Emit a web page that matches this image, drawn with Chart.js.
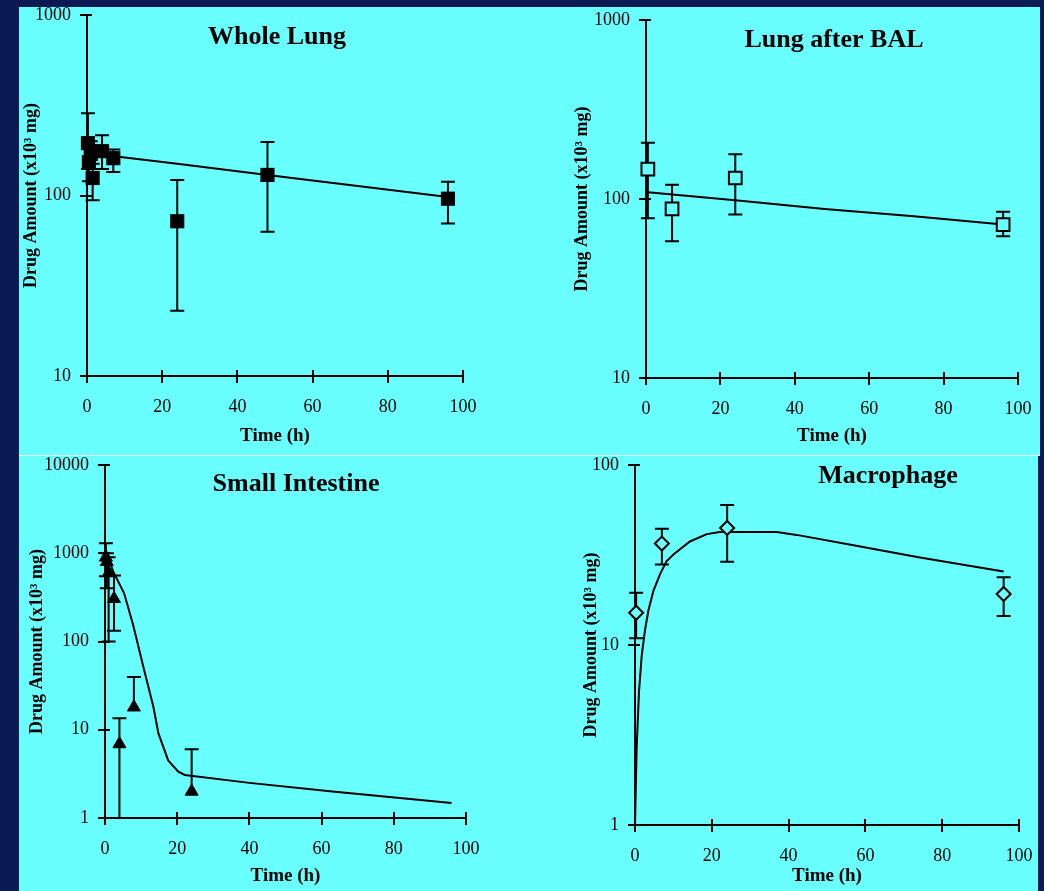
<!DOCTYPE html>
<html>
<head>
<meta charset="utf-8">
<script src="https://cdn.jsdelivr.net/npm/chart.js@4.4.0/dist/chart.umd.min.js"></script>
<style>
  html, body { margin: 0; padding: 0; background: #0c1a54; }
  #page { position: relative; width: 1044px; height: 891px; overflow: hidden; background: #0c1a54; }
  .panel { position: absolute; background: #6affff; }
  canvas { position: absolute; }
</style>
</head>
<body>
<div id="page">
  <div class="panel" style="left:19px;top:7px;width:1021px;height:448px"></div>
  <div style="position:absolute;left:19px;top:455px;width:1021px;height:1px;background:#e4ffff"></div>
  <div class="panel" style="left:19px;top:456px;width:1019px;height:435px"></div>
  <canvas id="wholeLung" width="520" height="455" style="left:0;top:0"></canvas>
  <canvas id="lungBal" width="524" height="455" style="left:520px;top:0"></canvas>
  <canvas id="smallIntestine" width="520" height="435" style="left:0;top:456px"></canvas>
  <canvas id="macrophage" width="518" height="435" style="left:520px;top:456px"></canvas>
</div>
<script>
// ---- shared axis ticks ----
const timeTicks = [0, 20, 40, 60, 80, 100];
const lungTicks = [10, 100, 1000];
const intestineTicks = [1, 10, 100, 1000, 10000];
const macrophageTicks = [1, 10, 100];

// ---- Whole Lung (mean, upper / lower error limits, fitted curve) ----
const wholeLungTime  = [0.25, 0.5, 1, 1.5, 4, 7, 24, 48, 96];
const wholeLungMean  = [195, 153, 170, 125, 176, 161, 72, 130, 96];
const wholeLungUpper = [286, 190, 200, 150, 216, 180, 122, 198, 119];
const wholeLungLower = [140, 120, 140, 94, 140, 135, 23, 63, 70];
const wholeLungFitTime   = [0, 24, 48, 72, 96];
const wholeLungFitAmount = [172, 150, 130, 113, 98];

// ---- Lung after BAL ----
const lungBalTime  = [0.5, 7, 24, 96];
const lungBalMean  = [147, 88, 131, 72];
const lungBalUpper = [206, 120, 178, 85];
const lungBalLower = [78, 58, 82, 62];
const lungBalFitTime   = [0.5, 24, 48, 72, 96];
const lungBalFitAmount = [109, 98.5, 88, 80, 72];

// ---- Small Intestine ----
const intestineTime  = [0.25, 0.5, 1, 2.5, 4, 8, 24];
const intestineMean  = [900, 800, 600, 305, 6.9, 18, 2];
const intestineUpper = [1300, 1000, 900, 560, 13.5, 39.5, 6];
const intestineLower = [550, 400, 100, 132, 1, null, null];
const intestineFitTime   = [0, 1.4, 2.3, 5.3, 7.8, 10.6, 13.4, 14.8, 17.5, 20.3, 22.1, 40, 63, 96];
const intestineFitAmount = [900, 776, 618, 352, 154, 52, 18.2, 9.1, 4.5, 3.35, 3.07, 2.5, 2.0, 1.48];

// ---- Macrophage ----
const macrophageTime  = [0.3, 7, 24, 96];
const macrophageMean  = [15.1, 36.6, 44.7, 19.2];
const macrophageUpper = [19.5, 44.2, 60, 23.8];
const macrophageLower = [10.9, 28, 29, 14.5];
const macrophageFitTime   = [0, 0.43, 1.04, 1.74, 2.6, 3.5, 4.8, 6.5, 8.2, 10, 14.3, 18.7, 22.1, 36.9, 42.1, 56.9, 74.2, 96];
const macrophageFitAmount = [1, 2.68, 5.5, 8.7, 12.1, 15.6, 20, 24.7, 29.2, 31.8, 37.6, 41.3, 42.4, 42.4, 40.9, 35.8, 30.6, 25.6];

const FONT = "'Liberation Serif', 'Times New Roman', serif";
const CYAN = '#6affff';
const INK = '#000000';

const pairs = (xs, ys) => xs.map((x, i) => ({ x, y: ys[i] }));

// vertical error bars with caps, drawn beneath the markers
const errorBars = {
  id: 'errorBars',
  beforeDatasetsDraw(chart) {
    const { ctx, scales: { x, y } } = chart;
    const cap = 7;
    ctx.save();
    ctx.strokeStyle = INK;
    ctx.lineWidth = 2;
    chart.data.datasets.forEach(ds => {
      if (!ds.errorUpper) return;
      ds.data.forEach((p, i) => {
        const px = x.getPixelForValue(p.x);
        const py = y.getPixelForValue(p.y);
        [ds.errorUpper[i], ds.errorLower[i]].forEach(v => {
          if (v == null) return;
          const e = y.getPixelForValue(v);
          ctx.beginPath();
          ctx.moveTo(px, py);
          ctx.lineTo(px, e);
          ctx.moveTo(px - cap, e);
          ctx.lineTo(px + cap, e);
          ctx.stroke();
        });
      });
    });
    ctx.restore();
  }
};

// tick marks that cross the axis line (the inner half)
const innerTicks = {
  id: 'innerTicks',
  afterDraw(chart) {
    const { ctx, chartArea: a, scales: { x, y } } = chart;
    ctx.save();
    ctx.strokeStyle = INK;
    ctx.lineWidth = 2;
    x.ticks.forEach(t => {
      const p = Math.round(x.getPixelForValue(t.value));
      ctx.beginPath(); ctx.moveTo(p, a.bottom); ctx.lineTo(p, a.bottom - 6); ctx.stroke();
    });
    y.ticks.forEach(t => {
      const p = Math.round(y.getPixelForValue(t.value));
      ctx.beginPath(); ctx.moveTo(a.left, p); ctx.lineTo(a.left + 5, p); ctx.stroke();
    });
    ctx.restore();
  }
};

// panel heading placed inside the plot
const panelTitle = {
  id: 'panelTitle',
  afterDraw(chart, args, opts) {
    const { ctx } = chart;
    ctx.save();
    ctx.font = `bold 26px ${FONT}`;
    ctx.fillStyle = INK;
    ctx.textAlign = 'center';
    ctx.textBaseline = 'alphabetic';
    ctx.fillText(opts.text, opts.x, opts.y);
    ctx.restore();
  }
};

function makePanel(id, p) {
  const canvas = document.getElementById(id);
  const cw = canvas.width, ch = canvas.height;
  const a = p.area;
  return new Chart(canvas, {
    type: 'scatter',
    data: {
      datasets: [
        {
          data: pairs(p.fitTime, p.fitAmount),
          showLine: true,
          borderColor: INK,
          borderWidth: 2,
          pointRadius: 0,
          tension: 0,
          order: 2
        },
        {
          data: pairs(p.time, p.mean),
          errorUpper: p.upper,
          errorLower: p.lower,
          showLine: false,
          clip: false,
          pointStyle: p.marker.style,
          pointRadius: p.marker.radius,
          pointBackgroundColor: p.marker.fill,
          pointBorderColor: INK,
          pointBorderWidth: p.marker.border,
          order: 1
        }
      ]
    },
    options: {
      responsive: false,
      animation: false,
      devicePixelRatio: 1,
      layout: { padding: { left: 0, top: a.top, right: cw - a.right, bottom: 0 } },
      plugins: {
        legend: { display: false },
        tooltip: { enabled: false },
        panelTitle: p.heading
      },
      scales: {
        x: {
          type: 'linear',
          min: 0,
          max: 100,
          afterBuildTicks: s => { s.ticks = timeTicks.map(v => ({ value: v })); },
          afterFit: s => { s.height = ch - a.bottom; s.paddingLeft = 0; s.paddingRight = 0; },
          ticks: {
            font: { family: FONT, size: 18 },
            color: INK,
            padding: 13,
            maxRotation: 0,
            autoSkip: false,
            callback: v => String(v)
          },
          grid: { drawOnChartArea: false, drawTicks: true, tickLength: 7, tickWidth: 2, color: INK, lineWidth: 2 },
          border: { color: INK, width: 2 },
          title: {
            display: true,
            text: 'Time (h)',
            color: INK,
            font: { family: FONT, size: 19, weight: 'bold' },
            padding: { top: 0, bottom: p.xTitlePad }
          }
        },
        y: {
          type: 'logarithmic',
          min: p.yTicks[0],
          max: p.yTicks[p.yTicks.length - 1],
          afterBuildTicks: s => { s.ticks = p.yTicks.map(v => ({ value: v })); },
          afterFit: s => { s.width = a.left; s.paddingTop = 0; s.paddingBottom = 0; },
          ticks: {
            font: { family: FONT, size: 18 },
            color: INK,
            padding: 9,
            autoSkip: false,
            callback: v => String(v)
          },
          grid: { drawOnChartArea: false, drawTicks: true, tickLength: 7, tickWidth: 2, color: INK, lineWidth: 2 },
          border: { color: INK, width: 2 },
          title: {
            display: true,
            text: 'Drug Amount (x10³ mg)',
            color: INK,
            font: { family: FONT, size: 18, weight: 'bold' },
            padding: { top: p.yTitlePad, bottom: 0 }
          }
        }
      }
    },
    plugins: [errorBars, innerTicks, panelTitle]
  });
}

makePanel('wholeLung', {
  area: { left: 87, top: 15, right: 463, bottom: 376 },
  yTicks: lungTicks,
  time: wholeLungTime, mean: wholeLungMean, upper: wholeLungUpper, lower: wholeLungLower,
  fitTime: wholeLungFitTime, fitAmount: wholeLungFitAmount,
  marker: { style: 'rect', radius: 10, fill: INK, border: 0 },
  heading: { text: 'Whole Lung', x: 277, y: 44 },
  yTitlePad: 21, xTitlePad: 8
});

makePanel('lungBal', {
  area: { left: 126, top: 20, right: 498, bottom: 378 },
  yTicks: lungTicks,
  time: lungBalTime, mean: lungBalMean, upper: lungBalUpper, lower: lungBalLower,
  fitTime: lungBalFitTime, fitAmount: lungBalFitAmount,
  marker: { style: 'rect', radius: 9, fill: CYAN, border: 2 },
  heading: { text: 'Lung after BAL', x: 314, y: 47 },
  yTitlePad: 52, xTitlePad: 8
});

makePanel('smallIntestine', {
  area: { left: 105, top: 9, right: 466, bottom: 362 },
  yTicks: intestineTicks,
  time: intestineTime, mean: intestineMean, upper: intestineUpper, lower: intestineLower,
  fitTime: intestineFitTime, fitAmount: intestineFitAmount,
  marker: { style: 'triangle', radius: 7.5, fill: INK, border: 1 },
  heading: { text: 'Small Intestine', x: 296, y: 35 },
  yTitlePad: 27, xTitlePad: 4
});

makePanel('macrophage', {
  area: { left: 115, top: 3, right: 499, bottom: 369 },
  yTicks: macrophageTicks,
  time: macrophageTime, mean: macrophageMean, upper: macrophageUpper, lower: macrophageLower,
  fitTime: macrophageFitTime, fitAmount: macrophageFitAmount,
  marker: { style: 'rectRot', radius: 7, fill: CYAN, border: 2 },
  heading: { text: 'Macrophage', x: 368, y: 27 },
  yTitlePad: 61, xTitlePad: 4
});
</script>
</body>
</html>
